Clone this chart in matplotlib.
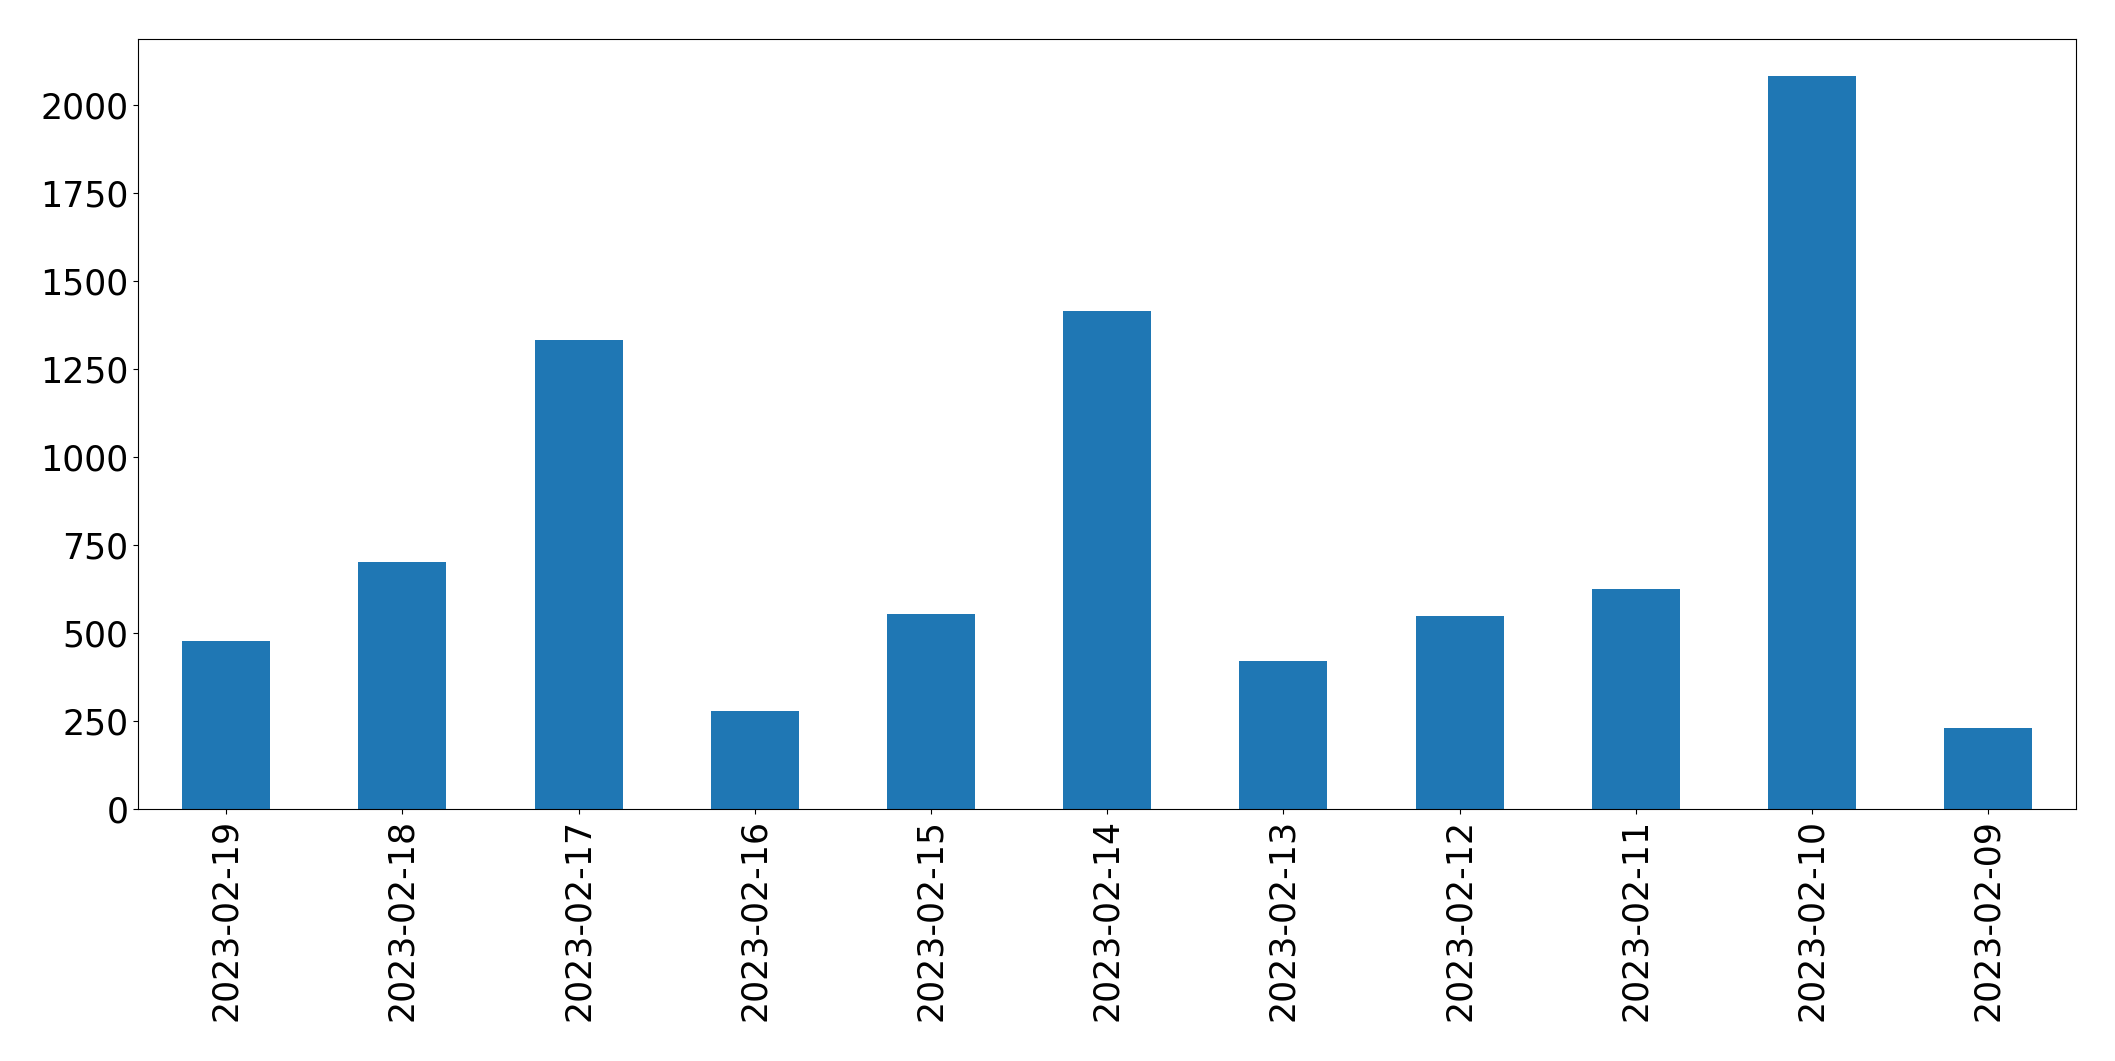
import matplotlib
matplotlib.use("Agg")
import matplotlib.pyplot as plt
import pandas as pd

dates = ["2023-02-19", "2023-02-18", "2023-02-17", "2023-02-16", "2023-02-15",
         "2023-02-14", "2023-02-13", "2023-02-12", "2023-02-11", "2023-02-10",
         "2023-02-09"]
counts = [477, 701, 1333, 278, 554, 1415, 420, 548, 625, 2083, 230]

s = pd.Series(counts, index=dates)

fig, ax = plt.subplots(figsize=(21.15, 10.61), dpi=100)
s.plot(kind="bar", ax=ax, color="#1f77b4")
ax.tick_params(labelsize=25)
fig.subplots_adjust(left=0.0653, right=0.9817, top=0.9632, bottom=0.2375)
fig.savefig("out.png", dpi=100)
